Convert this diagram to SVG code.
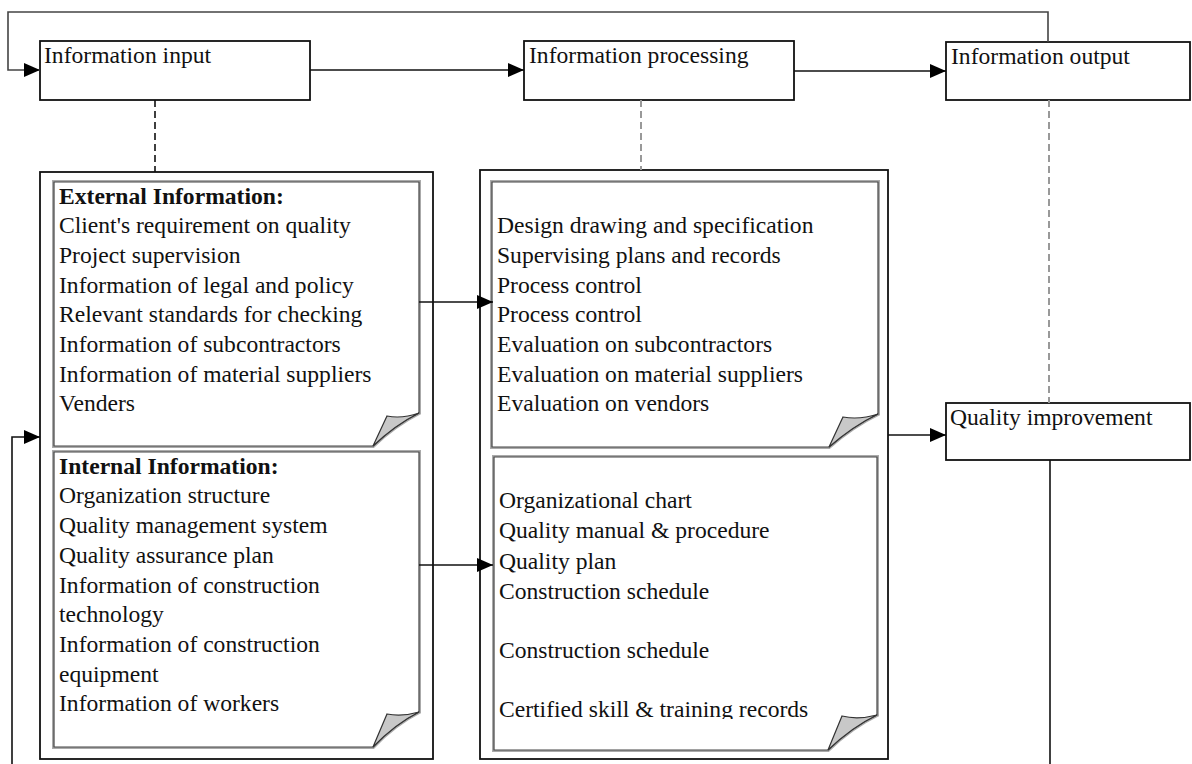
<svg xmlns="http://www.w3.org/2000/svg" width="1192" height="764" viewBox="0 0 1192 764">
<defs>
<style>
.box{fill:#fff;stroke:#111;stroke-width:1.8}
.outer{fill:#fff;stroke:#111;stroke-width:1.8}
.note-sh{fill:none;stroke:#aaa;stroke-width:4}
.note{fill:#fff;stroke:#444;stroke-width:1.2}
.curl{fill:#c8c8c8;stroke:#333;stroke-width:1.2}
.t{font-family:"Liberation Serif","Times New Roman",serif;font-size:23.6px;fill:#111}
.b{font-weight:bold}
.line{fill:none;stroke:#111;stroke-width:1.6}
.dash{fill:none;stroke:#111;stroke-width:1.6;stroke-dasharray:7 4}
.gdash{fill:none;stroke:#999;stroke-width:2;stroke-dasharray:7 4}
</style>
<marker id="arr" markerUnits="userSpaceOnUse" markerWidth="16" markerHeight="14" viewBox="0 0 16 14" refX="16" refY="7" orient="auto">
<path d="M0,0 L16,7 L0,14 Z" fill="#000"/>
</marker>
<clipPath id="clipB"><rect x="494" y="457" width="383" height="262"/></clipPath>
</defs>
<rect width="1192" height="764" fill="#fff"/>

<g id="info-input">
<rect class="box" x="40" y="41" width="270" height="59"/>
<text class="t" x="44" y="63">Information input</text>
</g>
<g id="info-processing">
<rect class="box" x="524" y="41" width="270" height="59"/>
<text class="t" x="529" y="63">Information processing</text>
</g>
<g id="info-output">
<rect class="box" x="946" y="42" width="244" height="58"/>
<text class="t" x="951" y="64">Information output</text>
</g>
<g id="quality-improvement">
<rect class="box" x="946" y="403" width="244" height="57"/>
<text class="t" x="950" y="425">Quality improvement</text>
</g>

<g id="input-panel">
<rect class="outer" x="40" y="172" width="393" height="587"/>
</g>

<g id="external-info">
<path class="note-sh" d="M54,182 H419 V413 Q395,425 373,446 H54 Z"/>
<path class="note" d="M54,182 H419 V413 Q395,425 373,446 H54 Z"/>
<path class="curl" d="M373,446 L387,416 Q402,419 419,413 Q395,425 373,446 Z"/>
<text class="t" x="59" y="204"><tspan class="b">External Information:</tspan>
<tspan x="59" y="233">Client's requirement on quality</tspan>
<tspan x="59" y="263">Project supervision</tspan>
<tspan x="59" y="293">Information of legal and policy</tspan>
<tspan x="59" y="322">Relevant standards for checking</tspan>
<tspan x="59" y="352">Information of subcontractors</tspan>
<tspan x="59" y="382">Information of material suppliers</tspan>
<tspan x="59" y="411">Venders</tspan></text>
</g>

<g id="internal-info">
<path class="note-sh" d="M54,452 H419 V712 Q395,724 373,747 H54 Z"/>
<path class="note" d="M54,452 H419 V712 Q395,724 373,747 H54 Z"/>
<path class="curl" d="M373,747 L387,714 Q402,717 419,712 Q395,724 373,747 Z"/>
<text class="t" x="59" y="474"><tspan class="b">Internal Information:</tspan>
<tspan x="59" y="503">Organization structure</tspan>
<tspan x="59" y="533">Quality management system</tspan>
<tspan x="59" y="563">Quality assurance plan</tspan>
<tspan x="59" y="593">Information of construction</tspan>
<tspan x="59" y="622">technology</tspan>
<tspan x="59" y="652">Information of construction</tspan>
<tspan x="59" y="682">equipment</tspan>
<tspan x="59" y="711">Information of workers</tspan></text>
</g>

<g id="processing-panel">
<rect class="outer" x="480" y="170" width="408" height="589"/>
</g>

<g id="processing-external">
<path class="note-sh" d="M492,182 H878 V414 Q853,426 829,447 H492 Z"/>
<path class="note" d="M492,182 H878 V414 Q853,426 829,447 H492 Z"/>
<path class="curl" d="M829,447 L843,417 Q860,420 878,414 Q853,426 829,447 Z"/>
<text class="t" x="497" y="233">Design drawing and specification
<tspan x="497" y="263">Supervising plans and records</tspan>
<tspan x="497" y="293">Process control</tspan>
<tspan x="497" y="322">Process control</tspan>
<tspan x="497" y="352">Evaluation on subcontractors</tspan>
<tspan x="497" y="382">Evaluation on material suppliers</tspan>
<tspan x="497" y="411">Evaluation on vendors</tspan></text>
</g>

<g id="processing-internal">
<path class="note-sh" d="M494,457 H877 V715 Q852,727 828,750 H494 Z"/>
<path class="note" d="M494,457 H877 V715 Q852,727 828,750 H494 Z"/>
<path class="curl" d="M828,750 L842,716 Q858,720 877,715 Q852,727 828,750 Z"/>
<g clip-path="url(#clipB)">
<text class="t" x="499" y="508">Organizational chart
<tspan x="499" y="538">Quality manual &amp; procedure</tspan>
<tspan x="499" y="569">Quality plan</tspan>
<tspan x="499" y="599">Construction schedule</tspan>
<tspan x="499" y="658">Construction schedule</tspan>
<tspan x="499" y="717">Certified skill &amp; training records</tspan></text>
</g>
</g>

<g id="connectors">
<path class="line" d="M1048,42 V12 H8 V70 H40" marker-end="url(#arr)" style="stroke:#444"/>
<path class="line" d="M310,70 H524" marker-end="url(#arr)"/>
<path class="line" d="M794,71 H946" marker-end="url(#arr)"/>
<path class="dash" d="M155,100 V172"/>
<path class="gdash" d="M641,100 V170"/>
<path class="gdash" d="M1049,100 V403"/>
<path class="line" d="M419,302 H493" marker-end="url(#arr)"/>
<path class="line" d="M419,565 H493" marker-end="url(#arr)"/>
<path class="line" d="M888,435 H946" marker-end="url(#arr)"/>
<path class="line" d="M12,764 V437 H40" marker-end="url(#arr)"/>
<path class="line" d="M1050,460 V764"/>
</g>
</svg>
